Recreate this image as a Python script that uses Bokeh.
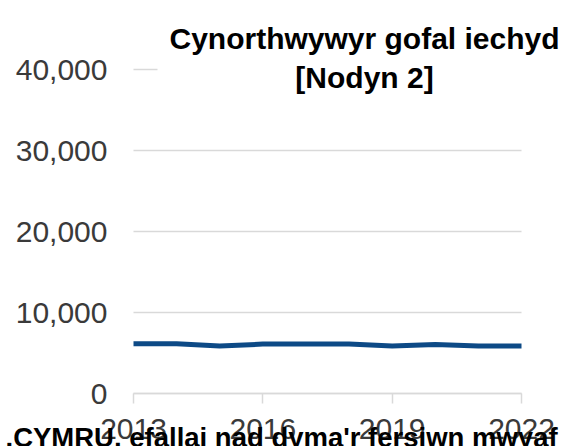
from bokeh.plotting import figure
from bokeh.models import Label, FixedTicker, NumeralTickFormatter, Range1d, BoxAnnotation
from bokeh.embed import file_html
from bokeh.resources import INLINE

years = [2013, 2014, 2015, 2016, 2017, 2018, 2019, 2020, 2021, 2022]
values = [6150, 6150, 5850, 6100, 6100, 6100, 5850, 6050, 5850, 5850]
x_ticks = [2013, 2016, 2019, 2022]
y_ticks = [0, 10000, 20000, 30000, 40000]
title_line1 = "Cynorthwywyr gofal iechyd"
title_line2 = "[Nodyn 2]"
footer_text = ".CYMRU, efallai nad dyma'r fersiwn mwyaf"

FONT = "Liberation Sans"
W, H = 570, 446

# pixel layout of the plotting region inside the canvas
X0, X1 = 133, 521          # pixels of 2013 and 2022
Y0, Y40 = 393, 69          # pixels (from top) of 0 and 40,000
ppx = (X1 - X0) / (x_ticks[-1] - x_ticks[0])
ppy = (Y0 - Y40) / (y_ticks[-1] - y_ticks[0])

x_range = Range1d(x_ticks[0] - X0 / ppx, x_ticks[0] + (W - X0) / ppx)
y_range = Range1d(y_ticks[0] - (H - Y0) / ppy, y_ticks[0] + Y0 / ppy)

p = figure(width=W, height=H, output_backend="svg", toolbar_location=None,
           x_range=x_range, y_range=y_range,
           min_border_left=0, min_border_right=0, min_border_top=0,
           min_border_bottom=0)
p.outline_line_color = None
p.background_fill_color = "white"
p.grid.visible = False

p.line(years, values, line_color="#0d4a86", line_width=5)

# y axis (its inward ticks serve as the horizontal gridlines)
p.yaxis.fixed_location = x_ticks[0]
p.yaxis.bounds = (y_ticks[0], y_ticks[-1])
p.yaxis.ticker = FixedTicker(ticks=y_ticks)
p.yaxis.formatter = NumeralTickFormatter(format="0,0")
p.yaxis.axis_line_color = None
p.yaxis.major_tick_line_color = "#d9d9d9"
p.yaxis.major_tick_line_width = 1.5
p.yaxis.major_tick_in = X1 - X0
p.yaxis.major_tick_out = 0
p.yaxis.minor_tick_line_color = None
p.yaxis.major_label_text_font = FONT
p.yaxis.major_label_text_font_size = "30px"
p.yaxis.major_label_text_color = "#3a3a3a"
p.yaxis.major_label_standoff = 26

# x axis
p.xaxis.fixed_location = y_ticks[0]
p.xaxis.bounds = (x_ticks[0], x_ticks[-1])
p.xaxis.ticker = FixedTicker(ticks=x_ticks)
p.xaxis.axis_line_color = "#d9d9d9"
p.xaxis.axis_line_width = 1.5
p.xaxis.major_tick_line_color = "#d9d9d9"
p.xaxis.major_tick_line_width = 1.5
p.xaxis.major_tick_out = 10
p.xaxis.major_tick_in = 0
p.xaxis.minor_tick_line_color = None
p.xaxis.major_label_text_font = FONT
p.xaxis.major_label_text_font_size = "30px"
p.xaxis.major_label_text_color = "#3a3a3a"
p.xaxis.major_label_standoff = 15

# white block behind the title (hides the top gridline, as in the reference)
p.add_layout(BoxAnnotation(left=157, right=W, top=H - 6, bottom=H - 86,
                           left_units="screen", right_units="screen",
                           top_units="screen", bottom_units="screen",
                           fill_color="white", fill_alpha=1.0,
                           line_color=None, level="annotation"))

for txt, base in ((title_line1, 38), (title_line2, 77)):
    p.add_layout(Label(x=364, y=H - base, x_units="screen", y_units="screen",
                       text=txt, text_font=FONT, text_font_style="bold",
                       text_font_size="30px", text_color="black",
                       text_align="center", text_baseline="alphabetic",
                       level="annotation"))

p.add_layout(Label(x=5, y=H - 437, x_units="screen", y_units="screen",
                   text=footer_text, text_font=FONT, text_font_style="bold",
                   text_font_size="27.5px", text_color="black",
                   text_align="left", text_baseline="alphabetic",
                   level="overlay"))

open("out.html", "w").write(file_html(p, INLINE))
